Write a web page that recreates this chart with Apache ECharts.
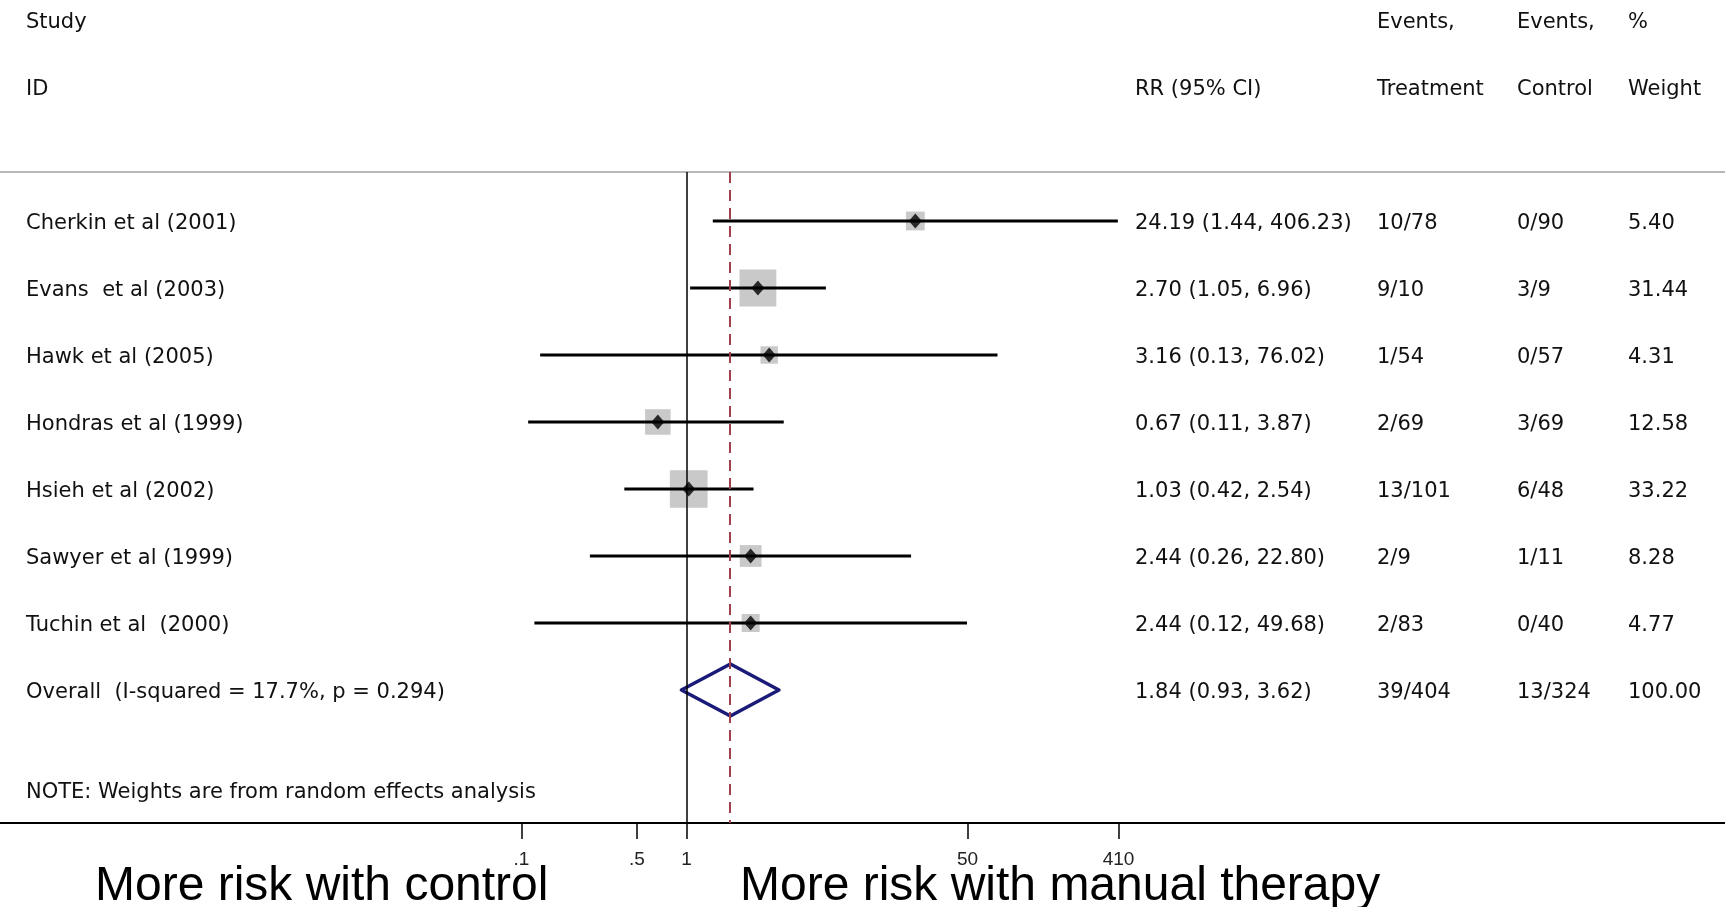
<!DOCTYPE html>
<html>
<head>
<meta charset="utf-8">
<script src="https://cdn.jsdelivr.net/npm/echarts@6/dist/echarts.min.js"></script>
<style>
  html, body { margin: 0; padding: 0; background: #fff; }
  #forest { width: 1725px; height: 907px; }
</style>
</head>
<body>
<div id="forest"></div>
<script>
// study rows
const studies = ['Cherkin et al (2001)', 'Evans  et al (2003)', 'Hawk et al (2005)', 'Hondras et al (1999)',
  'Hsieh et al (2002)', 'Sawyer et al (1999)', 'Tuchin et al  (2000)'];
const rr = [24.19, 2.70, 3.16, 0.67, 1.03, 2.44, 2.44];
const ciLow = [1.44, 1.05, 0.13, 0.11, 0.42, 0.26, 0.12];
const ciHigh = [406.23, 6.96, 76.02, 3.87, 2.54, 22.80, 49.68];
const eventsTreatment = ['10/78', '9/10', '1/54', '2/69', '13/101', '2/9', '2/83'];
const eventsControl = ['0/90', '3/9', '0/57', '3/69', '6/48', '1/11', '0/40'];
const weights = [5.40, 31.44, 4.31, 12.58, 33.22, 8.28, 4.77];

// pooled estimate
const overallLabel = 'Overall  (I-squared = 17.7%, p = 0.294)';
const overallRR = 1.84;
const overallLow = 0.93;
const overallHigh = 3.62;
const overallTreatment = '39/404';
const overallControl = '13/324';
const overallWeight = 100.00;

const noteText = 'NOTE: Weights are from random effects analysis';

// x axis ticks (log scale)
const tickValues = [0.1, 0.5, 1, 50, 410];
const tickLabels = ['.1', '.5', '1', '50', '410'];

const lg = v => Math.log10(v);
const ciText = (e, l, h) => e.toFixed(2) + ' (' + l.toFixed(2) + ', ' + h.toFixed(2) + ')';

// table text rows (row index on the y axis)
const tableRows = [
  { y: -2.01, cells: ['Study', '', 'Events,', 'Events,', '%'] },
  { y: -1.01, cells: ['ID', 'RR (95% CI)', 'Treatment', 'Control', 'Weight'] }
];
studies.forEach((s, i) => {
  tableRows.push({ y: i + 1, cells: [s, ciText(rr[i], ciLow[i], ciHigh[i]), eventsTreatment[i], eventsControl[i], weights[i].toFixed(2)] });
});
tableRows.push({ y: 8, cells: [overallLabel, ciText(overallRR, overallLow, overallHigh), overallTreatment, overallControl, overallWeight.toFixed(2)] });
tableRows.push({ y: 9.49, cells: [noteText] });
const colX = [26, 1135, 1377, 1517, 1628];

const textFont = '21px "DejaVu Sans", Verdana, sans-serif';
const chart = echarts.init(document.getElementById('forest'));

const xMin = -4.1537, xMax = 6.2819;
const option = {
  animation: false,
  grid: { left: 0, right: 0, top: 172, bottom: 84 },
  xAxis: [{
    type: 'value', min: xMin, max: xMax, position: 'bottom',
    axisLine: { lineStyle: { color: '#000', width: 2 } },
    axisTick: { customValues: tickValues.map(lg), length: 16, lineStyle: { color: '#000', width: 1.5 } },
    axisLabel: {
      customValues: tickValues.map(lg), margin: 27,
      fontSize: 19, fontFamily: '"Liberation Sans", Arial, sans-serif', color: '#222',
      formatter: v => tickLabels[tickValues.findIndex(t => Math.abs(lg(t) - v) < 1e-6)]
    },
    splitLine: { show: false }
  }, {
    type: 'value', min: xMin, max: xMax, position: 'top',
    axisLine: { lineStyle: { color: '#b8b8b8', width: 2 } },
    axisTick: { show: false }, axisLabel: { show: false }, splitLine: { show: false }
  }],
  yAxis: { type: 'value', inverse: true, min: 0.269, max: 9.985, show: false },
  series: [
    {
      name: 'weight box', type: 'scatter', symbol: 'rect', z: 2,
      symbolSize: d => 5.5 * Math.sqrt(d[2]) + 6,
      itemStyle: { color: '#bbbbbb' },
      data: rr.map((v, i) => [lg(v), i + 1, weights[i]]),
      markLine: {
        silent: true, symbol: 'none', label: { show: false },
        data: [
          { xAxis: lg(1), lineStyle: { color: '#000', width: 1.5, type: 'solid' } },
          { xAxis: lg(overallRR), lineStyle: { color: '#a0404e', width: 2, type: [11, 7] } }
        ]
      }
    },
    {
      name: 'ci', type: 'custom', z: 3,
      data: ciLow.map((l, i) => [lg(l), lg(ciHigh[i]), i + 1]),
      renderItem: (params, api) => {
        const p1 = api.coord([api.value(0), api.value(2)]);
        const p2 = api.coord([api.value(1), api.value(2)]);
        return { type: 'line', shape: { x1: p1[0], y1: p1[1], x2: p2[0], y2: p2[1] }, style: { stroke: '#000', lineWidth: 3 } };
      }
    },
    {
      name: 'estimate', type: 'scatter', symbol: 'diamond', symbolSize: [13, 15], z: 4,
      itemStyle: { color: '#000' },
      data: rr.map((v, i) => [lg(v), i + 1])
    },
    {
      name: 'overall', type: 'custom', z: 4,
      data: [[lg(overallLow), lg(overallRR), lg(overallHigh), 8]],
      renderItem: (params, api) => {
        const y = api.value(3);
        const l = api.coord([api.value(0), y]);
        const m = api.coord([api.value(1), y]);
        const r = api.coord([api.value(2), y]);
        const h = 26;
        return {
          type: 'polygon',
          shape: { points: [[l[0], l[1]], [m[0], m[1] - h], [r[0], r[1]], [m[0], m[1] + h]] },
          style: { fill: '#fff', stroke: '#1a1a78', lineWidth: 3.5, lineJoin: 'round' }
        };
      }
    },
    {
      name: 'table', type: 'custom', clip: false, z: 5,
      data: tableRows.map(r => [0, r.y]),
      renderItem: (params, api) => {
        const row = tableRows[params.dataIndex];
        const y = api.coord([0, row.y])[1] + 3;
        return {
          type: 'group',
          children: row.cells.map((t, c) => ({
            type: 'text',
            style: { text: t, x: colX[c], y: y, verticalAlign: 'middle', font: textFont, fill: '#111' }
          }))
        };
      }
    }
  ],
  graphic: [
    { type: 'text', style: { text: 'More risk with control', x: 95, y: 887, verticalAlign: 'middle', font: '48px "Liberation Sans", Arial, sans-serif', fill: '#000' } },
    { type: 'text', style: { text: 'More risk with manual therapy', x: 740, y: 887, verticalAlign: 'middle', font: '48px "Liberation Sans", Arial, sans-serif', fill: '#000' } }
  ]
};

chart.setOption(option);
</script>
</body>
</html>
